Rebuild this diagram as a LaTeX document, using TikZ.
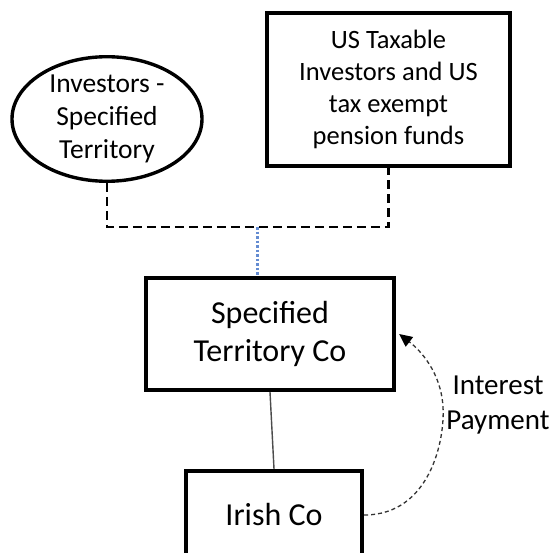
\documentclass[tikz,border=0pt]{standalone}
\usepackage{fontspec}
\setmainfont{Carlito}
\usetikzlibrary{shapes.geometric,arrows.meta}
\definecolor{dotblue}{RGB}{100,140,210}
\begin{document}
\begin{tikzpicture}[x=1pt,y=1pt,
  boxstyle/.style={draw=black,line width=4.2pt,align=center,inner sep=0pt},
  dashconn/.style={line width=2.8pt,dash pattern=on 9pt off 5pt},
  bluedot/.style={line width=3pt,color=dotblue,dash pattern=on 2.5pt off 2pt},
  plainline/.style={line width=1.4pt,color=black!70},
  payflow/.style={line width=1.3pt,color=black!80,dash pattern=on 4pt off 3pt,-{Triangle[length=13pt,width=12pt,fill=black,color=black]}}
]
\clip (0,0) rectangle (552,-553);
\fill[white] (0,0) rectangle (552,-553);
\node[ellipse,draw=black,line width=3.4pt,minimum width=190pt,minimum height=122pt,align=center,inner sep=0pt,
  font=\fontsize{27.5}{33}\selectfont] (ell) at (107,-119) {Investors -\\Specified\\Territory};
\node[boxstyle,minimum width=243pt,minimum height=153pt,font=\fontsize{26.5}{32}\selectfont] (us) at (388.5,-89.5)
  {US Taxable\\Investors and US\\tax exempt\\pension funds};
\node[boxstyle,minimum width=248pt,minimum height=112pt,font=\fontsize{32}{38}\selectfont] (stc) at (270,-334)
  {Specified\\Territory Co};
\node[boxstyle,minimum width=176pt,minimum height=88pt,font=\fontsize{32}{38}\selectfont] (irish) at (274,-515)
  {Irish Co};
\coordinate (j) at (257,-227);
\draw[dashconn] (ell.south) |- (j) -| (us.south);
\draw[bluedot] (j) -- (j |- stc.north);
\draw[plainline] (stc.south) -- (irish.north);
\coordinate (bend) at (443,-407);
\draw[payflow] (irish.east) .. controls (430,-515) and (445,-440) .. (bend) .. controls (441,-372) and (420,-350) .. ([xshift=3pt]stc.east);
\node[align=center,font=\fontsize{29}{35}\selectfont,inner sep=0pt] (lbl) at (498,-405) {Interest\\Payment};
\end{tikzpicture}
\end{document}
